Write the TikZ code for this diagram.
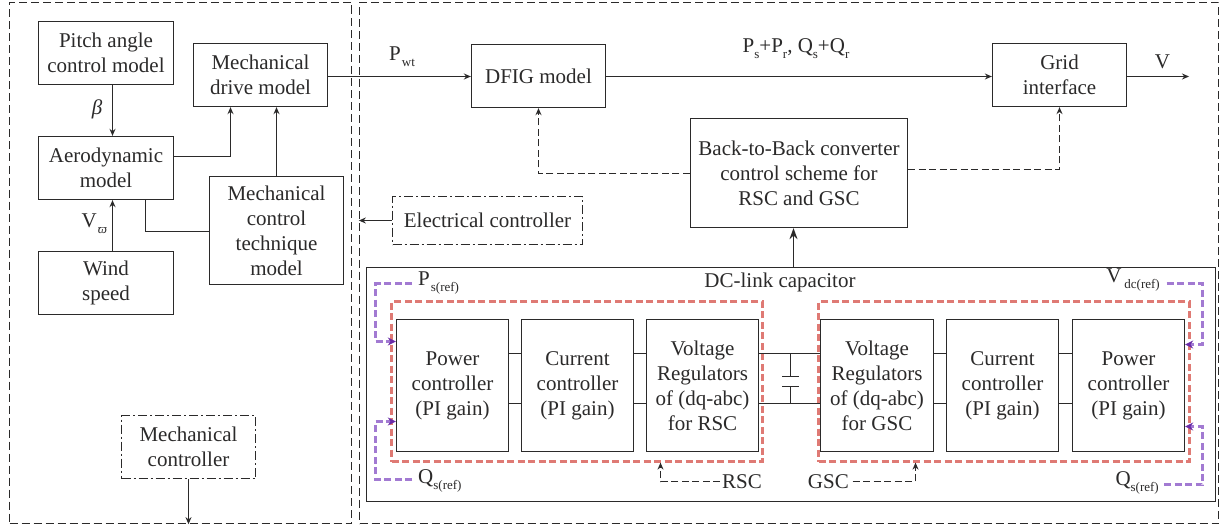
\documentclass[tikz,border=0pt]{standalone}
\usepackage{fontspec}
\setmainfont{Liberation Serif}
\usetikzlibrary{arrows.meta,calc}
\definecolor{ink}{HTML}{2B2A2A}
\definecolor{redd}{HTML}{DF7A74}
\definecolor{purp}{HTML}{A27AD2}
\definecolor{purpd}{HTML}{6A2CA8}
\newcommand{\sbs}[1]{\raisebox{-6pt}{\fontsize{13}{13}\selectfont #1}}
\tikzset{
  blk/.style={draw=ink,line width=1.3pt,text=ink,align=center,inner sep=0pt,font=\fontsize{21}{25}\selectfont},
  ctrl/.style={blk,dash pattern=on 9pt off 3pt on 2pt off 3pt},
  outer/.style={draw=ink,line width=1.3pt,dash pattern=on 8pt off 4pt},
  redbox/.style={draw=redd,line width=2.2pt,dash pattern=on 7pt off 3.5pt,inner sep=0pt},
  lbl/.style={text=ink,inner sep=0pt,font=\fontsize{21}{25}\selectfont},
  con/.style={draw=ink,line width=1.3pt},
  arr/.style={con,-{Stealth[length=7pt,width=6pt]}},
  darr/.style={arr,dash pattern=on 7pt off 3.5pt},
  parr/.style={draw=purp,line width=2.2pt,dash pattern=on 7pt off 3.5pt,-{Stealth[length=8pt,width=8pt,color=purpd]}},
}
\begin{document}
\begin{tikzpicture}[x=1pt,y=-1pt]
\useasboundingbox (0,0) rectangle (1220,527);
\fill[white] (0,0) rectangle (1220,527);
% outer dashed regions
\node[outer,inner sep=0pt,minimum width=342pt,minimum height=521pt] (left) at (180.5,263) {};
\node[outer,inner sep=0pt,minimum width=859pt,minimum height=521pt] (right) at (789,263) {};
% left blocks
\node[blk,minimum width=135pt,minimum height=63pt] (pitch) at (106,53) {Pitch angle\\control model};
\node[blk,minimum width=134pt,minimum height=63pt] (drive) at (260.5,75) {Mechanical\\drive model};
\node[blk,minimum width=135pt,minimum height=63pt] (aero) at (106,168) {Aerodynamic\\model};
\node[blk,minimum width=134pt,minimum height=108pt] (mcon) at (276.5,230.5) {Mechanical\\control\\technique\\model};
\node[blk,minimum width=135pt,minimum height=63pt] (wind) at (106,283) {Wind\\speed};
\node[ctrl,minimum width=134pt,minimum height=63pt] (mctl) at (188.5,447) {Mechanical\\controller};
% top right blocks
\node[blk,minimum width=134pt,minimum height=63pt] (dfig) at (538.5,76) {DFIG model};
\node[blk,minimum width=134pt,minimum height=63pt] (grid) at (1059.5,75) {Grid\\interface};
\node[blk,minimum width=217pt,minimum height=109pt] (b2b) at (799,173) {Back-to-Back converter\\control scheme for\\RSC and GSC};
\node[ctrl,minimum width=190pt,minimum height=48pt] (elec) at (487.5,220.5) {Electrical controller};
% DC link
\node[blk,minimum width=849pt,minimum height=234pt] (dc) at (791,384.5) {};
\node[redbox,minimum width=371pt,minimum height=160pt] (redl) at (577,381.5) {};
\node[redbox,minimum width=371pt,minimum height=160pt] (redr) at (1004,381.5) {};
\node[blk,minimum width=112pt,minimum height=132pt] (powl) at (452.5,385.5) {Power\\controller\\(PI gain)};
\node[blk,minimum width=112pt,minimum height=132pt] (curl) at (577.5,385.5) {Current\\controller\\(PI gain)};
\node[blk,minimum width=112pt,minimum height=132pt] (voll) at (702.5,385.5) {Voltage\\Regulators\\of (dq-abc)\\for RSC};
\node[blk,minimum width=113pt,minimum height=132pt] (volr) at (877,385.5) {Voltage\\Regulators\\of (dq-abc)\\for GSC};
\node[blk,minimum width=112pt,minimum height=132pt] (curr) at (1002.5,385.5) {Current\\controller\\(PI gain)};
\node[blk,minimum width=112pt,minimum height=132pt] (powr) at (1128.5,385.5) {Power\\controller\\(PI gain)};
% labels
\node[lbl] (beta) at (97,109) {\textit{β}};
\node[lbl,anchor=west] (vw) at (81.5,224) {V\hspace{1pt}\sbs{\textit{ϖ}}};
\node[lbl,anchor=west] (pwt) at (389,57) {P\hspace{1pt}\sbs{wt}};
\node[lbl] (pq) at (796,49) {P\sbs{s}+P\sbs{r}, Q\sbs{s}+Q\sbs{r}};
\node[lbl] (vv) at (1162.5,62) {V};
\node[lbl] (dctxt) at (780,282) {DC-link capacitor};
\node[lbl,anchor=west] (lp) at (418,283) {P\hspace{1pt}\sbs{s(ref)}};
\node[lbl,anchor=west] (lq) at (418,481) {Q\sbs{s(ref)}};
\node[lbl,anchor=east] (lv) at (1160,280) {V\hspace{3pt}\sbs{dc(ref)}};
\node[lbl,anchor=east] (lqr) at (1159,483) {Q\sbs{s(ref)}};
\node[lbl,anchor=west] (rsc) at (722,482) {RSC};
\node[lbl,anchor=east] (gsc) at (849,482) {GSC};
% left connectors
\draw[arr] ([xshift=6.5pt]pitch.south) -- ([xshift=6.5pt]aero.north);
\draw[arr] ([xshift=6.5pt]wind.north) -- ([xshift=6.5pt]aero.south);
\draw[arr] ([yshift=11.5pt]aero.east) -| ([xshift=-30pt]drive.south);
\draw[arr] (mcon.north) -- (mcon.north |- drive.south);
\coordinate (kn) at (145.5,231.5);
\draw[con] (kn |- aero.south) -- (kn) -- (kn -| mcon.west);
\draw[arr] (mctl.south) -- (mctl.south |- left.south);
\draw[arr] (elec.west) -- (elec.west -| right.west);
% top connectors
\coordinate (vend) at (1189,76.5);
\draw[arr] (drive.east |- vend) -- (dfig.west |- vend);
\draw[arr] (dfig.east |- vend) -- (grid.west |- vend);
\draw[arr] (grid.east |- vend) -- (vend);
\draw[darr] ([yshift=-0.5pt]b2b.west) -| (dfig.south);
\draw[darr] ([yshift=3.5pt]b2b.east) -| (grid.south);
\coordinate (dcup) at (793.5,267.5);
\draw[con,-{Stealth[length=11pt,width=8pt]}] (dcup) -- (dcup |- b2b.south);
% DC-link internals
\foreach \a/\b in {powl/curl,curl/voll,voll/volr,volr/curr,curr/powr}{
  \draw[con] ([yshift=32pt]\a.east) -- ([yshift=32pt]\b.west);
  \draw[con] ([yshift=-18pt]\a.east) -- ([yshift=-18pt]\b.west);
}
\coordinate (cap1) at (790.5,376.5);
\coordinate (cap2) at (790.5,386.5);
\draw[con] (cap1 |- voll.east) ++(0,32pt) -- (cap1);
\draw[con] (cap2 |- voll.east) ++(0,-18pt) -- (cap2);
\draw[con] ([xshift=-8.3pt]cap1) -- ([xshift=8.3pt]cap1);
\draw[con] ([xshift=-8.3pt]cap2) -- ([xshift=8.3pt]cap2);
% reference signals
\coordinate (p0) at (412,283.5); \coordinate (p1) at (375.5,341.5);
\draw[parr] (p0) -| (p1) -- (p1 -| powl.west);
\coordinate (q0) at (412,479.5); \coordinate (q1) at (375.5,421.5);
\draw[parr] (q0) -| (q1) -- (q1 -| powl.west);
\coordinate (v0) at (1166.7,283.5); \coordinate (v1) at (1202.5,344.5);
\draw[parr] (v0) -| (v1) -- (v1 -| powr.east);
\coordinate (w0) at (1164,484.5); \coordinate (w1) at (1202.5,426.5);
\draw[parr] (w0) -| (w1) -- (w1 -| powr.east);
% RSC / GSC
\coordinate (r0) at (720,481.5); \coordinate (r1) at (660.5,481.5);
\draw[darr] (r0) -- (r1) -- (r1 |- redl.south);
\coordinate (g0) at (852.7,481.5); \coordinate (g1) at (915.5,481.5);
\draw[darr] (g0) -- (g1) -- (g1 |- redr.south);
\end{tikzpicture}
\end{document}
